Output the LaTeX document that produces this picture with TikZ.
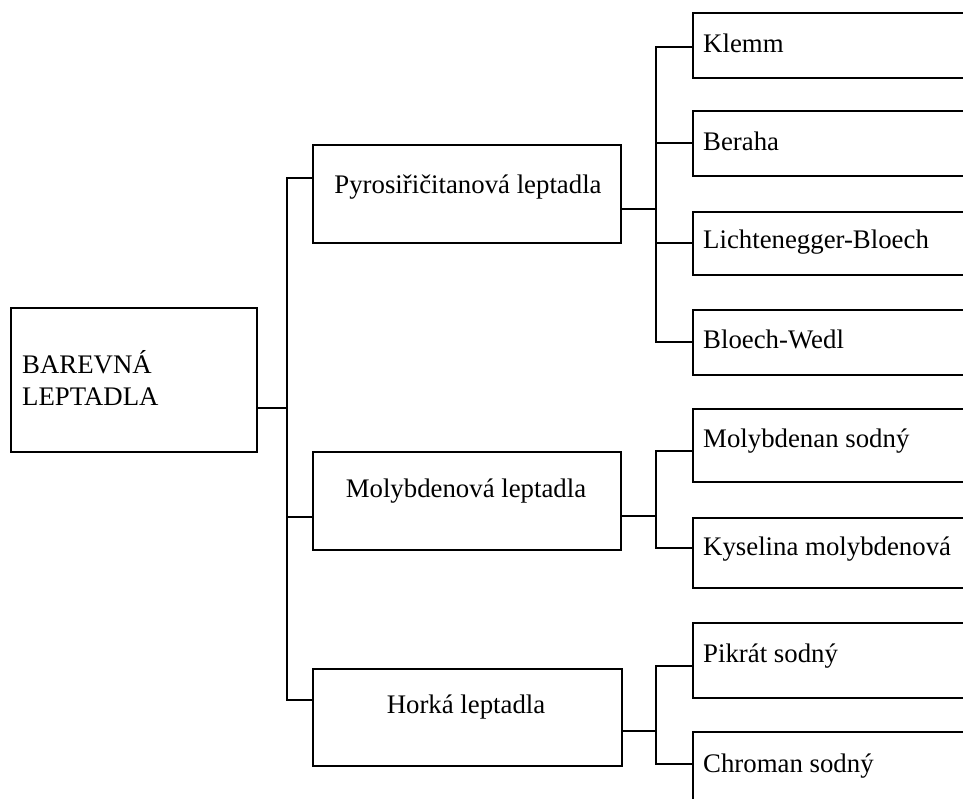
\documentclass[tikz,border=0pt]{standalone}
\usepackage{fontspec}
\setmainfont{Liberation Serif}
\newcommand\lblfs{\fontsize{26.8}{32}\selectfont}
\tikzset{
  box/.style={draw, line width=2pt, rectangle, inner sep=0pt, anchor=north west},
  lbl/.style={font=\lblfs, inner sep=0pt},
  conn/.style={line width=1.8pt},
}
\begin{document}
\begin{tikzpicture}[x=1pt,y=-1pt]
\clip (0,0) rectangle (963,798);
\fill[white] (0,0) rectangle (963,798);

% boxes
\node[box, minimum width=246pt, minimum height=144pt] (root) at (10,307) {};
\node[box, minimum width=308pt, minimum height=98pt] (pyro) at (312,144) {};
\node[box, minimum width=308pt, minimum height=98pt] (moly) at (312,451) {};
\node[box, minimum width=309pt, minimum height=97pt] (hork) at (312,668) {};
\node[box, minimum width=330pt, minimum height=65pt] (klemm) at (692,12) {};
\node[box, minimum width=330pt, minimum height=65pt] (beraha) at (692,110) {};
\node[box, minimum width=330pt, minimum height=63pt] (licht) at (692,211) {};
\node[box, minimum width=330pt, minimum height=65pt] (bloech) at (692,309) {};
\node[box, minimum width=330pt, minimum height=73pt] (molna) at (692,408) {};
\node[box, minimum width=330pt, minimum height=70pt] (kys) at (692,517) {};
\node[box, minimum width=330pt, minimum height=75pt] (pik) at (692,622) {};
\node[box, minimum width=330pt, minimum height=80pt] (chrom) at (692,731) {};

% texts
\node[lbl, anchor=base west] (rootA) at (22,373) {BAREVNÁ};
\node[lbl, anchor=base west] (rootB) at (22,405) {LEPTADLA};
\node[lbl, anchor=base] (pyroT) at (468,193) {Pyrosiřičitanová leptadla};
\node[lbl, anchor=base] (molyT) at (466,497) {Molybdenová leptadla};
\node[lbl, anchor=base] (horkT) at (466,713) {Horká leptadla};
\node[lbl, anchor=base west] (klemmT) at (703,52) {Klemm};
\node[lbl, anchor=base west] (berahaT) at (703,150) {Beraha};
\node[lbl, anchor=base west] (lichtT) at (703,248) {Lichtenegger-Bloech};
\node[lbl, anchor=base west] (bloechT) at (703,348) {Bloech-Wedl};
\node[lbl, anchor=base west] (molnaT) at (703,447) {Molybdenan sodný};
\node[lbl, anchor=base west] (kysT) at (703,555) {Kyselina molybdenová};
\node[lbl, anchor=base west] (pikT) at (703,662) {Pikrát sodný};
\node[lbl, anchor=base west] (chromT) at (703,772) {Chroman sodný};

% attachment points
\coordinate (rootOut) at (root.east |- 0,408);
\coordinate (pyroIn) at (pyro.west |- 0,178);
\coordinate (pyroOut) at (pyro.east |- 0,209);
\coordinate (molyIn) at (moly.west |- 0,517);
\coordinate (molyOut) at (moly.east |- 0,516);
\coordinate (horkIn) at (hork.west |- 0,700);
\coordinate (horkOut) at (hork.east |- 0,731);
\coordinate (klemmIn) at (klemm.west |- 0,47);
\coordinate (berahaIn) at (beraha.west |- 0,143);
\coordinate (lichtIn) at (licht.west |- 0,243);
\coordinate (bloechIn) at (bloech.west |- 0,342);
\coordinate (molnaIn) at (molna.west |- 0,451);
\coordinate (kysIn) at (kys.west |- 0,548);
\coordinate (pikIn) at (pik.west |- 0,666);
\coordinate (chromIn) at (chrom.west |- 0,764);
\coordinate (trunk) at (287,0);
\coordinate (sub) at (656,0);

% main tree
\draw[conn] (rootOut) -- (rootOut -| trunk);
\draw[conn] (pyroIn) -- (pyroIn -| trunk) -- (horkIn -| trunk) -- (horkIn);
\draw[conn] (molyIn -| trunk) -- (molyIn);

% pyro group
\draw[conn] (pyroOut) -- (pyroOut -| sub);
\draw[conn] (klemmIn) -- (klemmIn -| sub) -- (bloechIn -| sub) -- (bloechIn);
\draw[conn] (berahaIn -| sub) -- (berahaIn);
\draw[conn] (lichtIn -| sub) -- (lichtIn);

% moly group
\draw[conn] (molyOut) -- (molyOut -| sub);
\draw[conn] (molnaIn) -- (molnaIn -| sub) -- (kysIn -| sub) -- (kysIn);

% hork group
\draw[conn] (horkOut) -- (horkOut -| sub);
\draw[conn] (pikIn) -- (pikIn -| sub) -- (chromIn -| sub) -- (chromIn);
\end{tikzpicture}
\end{document}
